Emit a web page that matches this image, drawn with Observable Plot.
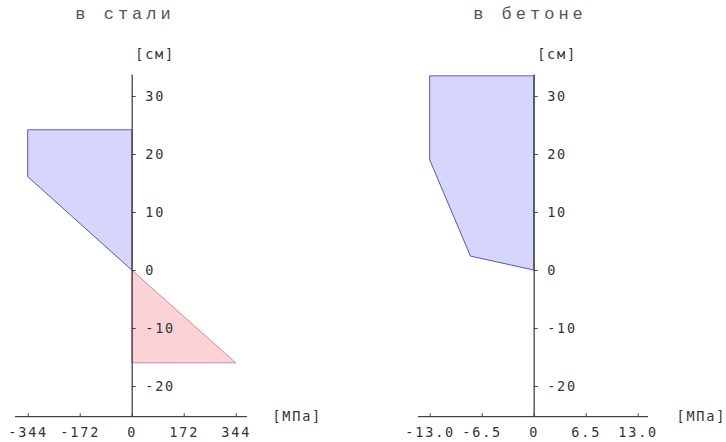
<!DOCTYPE html>
<html>
<head>
<meta charset="utf-8">
<script src="https://cdn.jsdelivr.net/npm/d3@7"></script>
<script src="https://cdn.jsdelivr.net/npm/@observablehq/plot@0.6"></script>
<style>
  html, body { margin: 0; padding: 0; background: #fff; }
  #wrap { position: relative; width: 726px; height: 442px; overflow: hidden; }
  .panel { position: absolute; top: 0; width: 363px; height: 442px; }
  .title { position: absolute; top: 5px; font-family: "Liberation Mono", monospace; font-size: 17px; letter-spacing: 4px; color: #555; white-space: nowrap; transform: translateX(-50%); }
  .panel svg { position: absolute; top: 30px; left: 0; }
</style>
</head>
<body>
<div id="wrap"></div>
<script>
// ---- data ----
const titles = ["в стали", "в бетоне"];
const yUnit = "[см]";
const xUnit = "[МПа]";
const yTicks = [-20, -10, 0, 10, 20, 30];

// steel: compression (upper) and tension (lower)
const steelCompY = [24.1, 16.1, 0];
const steelCompS = [-344, -344, 0];
const steelTensY = [0, -16];
const steelTensS = [0, 344];
const steelTicks = [-344, -172, 0, 172, 344];
const steelTickLabels = ["-344", "-172", "0", "172", "344"];

// concrete
const concY = [33.4, 19, 2.4, 0];
const concS = [-13, -13, -7.9, 0];
const concTicks = [-13, -6.5, 0, 6.5, 13];
const concTickLabels = ["-13.0", "-6.5", "0", "6.5", "13.0"];

const yDomain = [-25.2, 33.7];

const blueFill = "#d6d6fc", blueStroke = "#5858a8";
const redFill = "#fbd3d7", redStroke = "#d48a92";
const axisColor = "#444";

function panel({left, title, titleX, xDomain, marginLeft, marginRight, areas, xTicks, xTickLabels, unitDx}) {
  const W = 363, H = 412, mt = 44.5, mb = 25.8;
  const pxPerX = (W - marginLeft - marginRight) / (xDomain[1] - xDomain[0]);
  const pxPerY = (H - mt - mb) / (yDomain[1] - yDomain[0]);
  const yTickLen = 4 / pxPerX;   // horizontal tick length in x units
  const xTickLen = 3 / pxPerY;   // vertical tick length in y units
  const yMin = yDomain[0], yMax = yDomain[1];

  const marks = [];
  for (const a of areas) {
    const data = a.y.map((y, i) => ({y, s: a.s[i]}));
    marks.push(Plot.areaX(data, {y: "y", x1: 0, x2: "s", fill: a.fill, stroke: a.stroke, strokeWidth: 1}));
  }
  // y axis
  marks.push(Plot.ruleX([0], {y1: yMin, y2: yMax, stroke: axisColor, strokeWidth: 1.3}));
  marks.push(Plot.ruleY(yTicks, {y: d => d, x1: 0, x2: yTickLen, stroke: axisColor, strokeWidth: 1}));
  marks.push(Plot.text(yTicks, {y: d => d, x: 0, text: d => String(d), dx: 13, textAnchor: "start", fill: "#333"}));
  marks.push(Plot.text([yUnit], {x: 0, y: yMax, text: d => d, dx: 3, dy: -20, textAnchor: "start", fill: "#333"}));
  // x axis
  marks.push(Plot.ruleY([yMin], {x1: xDomain[0], x2: xDomain[1], stroke: axisColor, strokeWidth: 1.3}));
  marks.push(Plot.ruleX(xTicks, {x: d => d, y1: yMin, y2: yMin + xTickLen, stroke: axisColor, strokeWidth: 1}));
  marks.push(Plot.text(xTicks, {x: d => d, y: yMin, text: (d, i) => xTickLabels[i], dy: 16, textAnchor: "middle", fill: "#333"}));
  marks.push(Plot.text([xUnit], {x: xDomain[1], y: yMin, text: d => d, dx: unitDx, textAnchor: "start", fill: "#333"}));

  const svg = Plot.plot({
    width: W, height: H,
    marginLeft, marginRight, marginTop: mt, marginBottom: mb,
    x: {domain: xDomain, axis: null},
    y: {domain: yDomain, axis: null},
    style: {fontFamily: "'DejaVu Sans Mono', monospace", fontSize: "13.5px", letterSpacing: "1.8px", background: "transparent", overflow: "visible"},
    marks
  });
  const div = document.createElement("div");
  div.className = "panel";
  div.style.left = left + "px";
  const t = document.createElement("div");
  t.className = "title";
  t.style.left = titleX + "px";
  t.textContent = title;
  div.appendChild(t);
  div.appendChild(svg);
  document.getElementById("wrap").appendChild(div);
}

panel({
  left: 0, title: titles[0], titleX: 125,
  xDomain: [-386, 381], marginLeft: 15, marginRight: 116.1,
  areas: [
    {y: steelCompY, s: steelCompS, fill: blueFill, stroke: blueStroke},
    {y: steelTensY, s: steelTensS, fill: redFill, stroke: redStroke}
  ],
  xTicks: steelTicks, xTickLabels: steelTickLabels, unitDx: 25
});

panel({
  left: 363, title: titles[1], titleX: 167,
  xDomain: [-14.46, 14.29], marginLeft: 55, marginRight: 78,
  areas: [
    {y: concY, s: concS, fill: blueFill, stroke: blueStroke}
  ],
  xTicks: concTicks, xTickLabels: concTickLabels, unitDx: 28
});
</script>
</body>
</html>
